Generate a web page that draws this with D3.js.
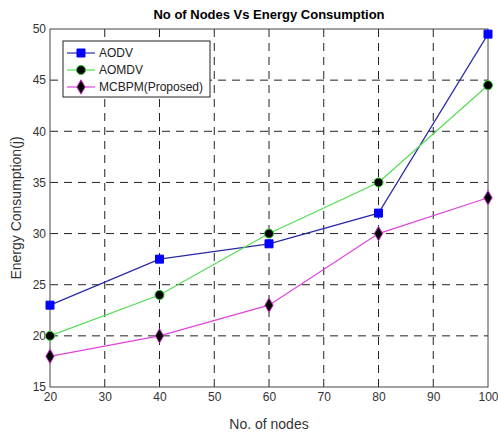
<!DOCTYPE html>
<html>
<head>
<meta charset="utf-8">
<script src="https://cdn.jsdelivr.net/npm/d3@7"></script>
<style>
  body { margin: 0; background: #fff; }
  text { font-family: "Liberation Sans", Arial, sans-serif; }
</style>
</head>
<body>
<script>
var width = 498,
    height = 434;

var nodes = [20, 40, 60, 80, 100];
var aodv = [23, 27.5, 29, 32, 49.5];
var aomdv = [20, 24, 30, 35, 44.5];
var mcbpm = [18, 20, 23, 30, 33.5];
var xTicks = [20, 30, 40, 50, 60, 70, 80, 90, 100];
var yTicks = [15, 20, 25, 30, 35, 40, 45, 50];

var series = [
  {name: "AODV", values: aodv, line: "#2a2aa8", marker: "square", fill: "#0000ff", edge: "#0000ff"},
  {name: "AOMDV", values: aomdv, line: "#55dd55", marker: "circle", fill: "#000", edge: "#33cc33"},
  {name: "MCBPM(Proposed)", values: mcbpm, line: "#dd44dd", marker: "diamond", fill: "#000", edge: "#cc33cc"}
];

var margin = {top: 29, right: 10, bottom: 47, left: 50};

var svg = d3.select("body").append("svg")
    .attr("width", width)
    .attr("height", height);

var x = d3.scaleLinear().domain([20, 100]).range([margin.left, width - margin.right]);
var y = d3.scaleLinear().domain([15, 50]).range([height - margin.bottom, margin.top]);

// grid
svg.append("g").selectAll("line")
    .data(xTicks.slice(1, -1))
    .enter().append("line")
      .attr("x1", function(d) { return x(d); })
      .attr("x2", function(d) { return x(d); })
      .attr("y1", y(15))
      .attr("y2", y(50))
      .attr("stroke", "#222")
      .attr("stroke-width", 1)
      .attr("stroke-dasharray", "8,6");

svg.append("g").selectAll("line")
    .data(yTicks.slice(1, -1))
    .enter().append("line")
      .attr("x1", x(20))
      .attr("x2", x(100))
      .attr("y1", function(d) { return y(d); })
      .attr("y2", function(d) { return y(d); })
      .attr("stroke", "#222")
      .attr("stroke-width", 1)
      .attr("stroke-dasharray", "8,6");

// box
svg.append("rect")
    .attr("x", x(20))
    .attr("y", y(50))
    .attr("width", x(100) - x(20))
    .attr("height", y(15) - y(50))
    .attr("fill", "none")
    .attr("stroke", "#444")
    .attr("stroke-width", 1);

// axes
var xAxis = svg.append("g")
    .attr("transform", "translate(0," + y(15) + ")")
    .call(d3.axisBottom(x).tickValues(xTicks).tickSize(0).tickPadding(5));
var yAxis = svg.append("g")
    .attr("transform", "translate(" + x(20) + ",0)")
    .call(d3.axisLeft(y).tickValues(yTicks).tickSize(0).tickPadding(4));
[xAxis, yAxis].forEach(function(a) {
  a.select(".domain").remove();
  a.selectAll("text").attr("font-size", 12).attr("fill", "#333")
    .style("font-family", "Liberation Sans, Arial, sans-serif");
});

// lines
var line = d3.line()
    .x(function(d, i) { return x(nodes[i]); })
    .y(function(d) { return y(d); });

var symbolType = {square: d3.symbolSquare, circle: d3.symbolCircle, diamond: d3.symbolDiamond};
var symbolSize = {square: 64, circle: 64, diamond: 60};

function drawMarker(g, s, cx, cy) {
  g.append("path")
    .attr("d", d3.symbol().type(symbolType[s.marker]).size(symbolSize[s.marker])())
    .attr("transform", "translate(" + cx + "," + cy + ")")
    .attr("fill", s.fill)
    .attr("stroke", s.edge)
    .attr("stroke-width", 1);
}

series.forEach(function(s) {
  svg.append("path")
      .datum(s.values)
      .attr("fill", "none")
      .attr("stroke", s.line)
      .attr("stroke-width", 1.2)
      .attr("d", line);
  var g = svg.append("g");
  s.values.forEach(function(v, i) { drawMarker(g, s, x(nodes[i]), y(v)); });
});

// legend
var legend = svg.append("g");
legend.append("rect")
    .attr("x", 63).attr("y", 41)
    .attr("width", 147).attr("height", 56)
    .attr("fill", "#fff")
    .attr("stroke", "#222");
series.forEach(function(s, i) {
  var ly = 53 + i * 17;
  legend.append("line")
      .attr("x1", 67).attr("x2", 95)
      .attr("y1", ly).attr("y2", ly)
      .attr("stroke", s.line).attr("stroke-width", 1.2);
  drawMarker(legend, s, 81, ly);
  legend.append("text")
      .attr("x", 99).attr("y", ly + 4)
      .attr("font-size", 12).attr("fill", "#222")
      .text(s.name);
});

// title and labels
svg.append("text")
    .attr("x", 269).attr("y", 19)
    .attr("text-anchor", "middle")
    .attr("font-size", 13).attr("font-weight", "bold")
    .text("No of Nodes Vs Energy Consumption");

svg.append("text")
    .attr("x", 269).attr("y", 429)
    .attr("text-anchor", "middle")
    .attr("font-size", 14).attr("fill", "#333")
    .text("No. of nodes");

svg.append("text")
    .attr("transform", "translate(21," + ((y(15) + y(50)) / 2) + ") rotate(-90)")
    .attr("text-anchor", "middle")
    .attr("font-size", 14).attr("fill", "#333")
    .text("Energy Consumption(j)");
</script>
</body>
</html>
